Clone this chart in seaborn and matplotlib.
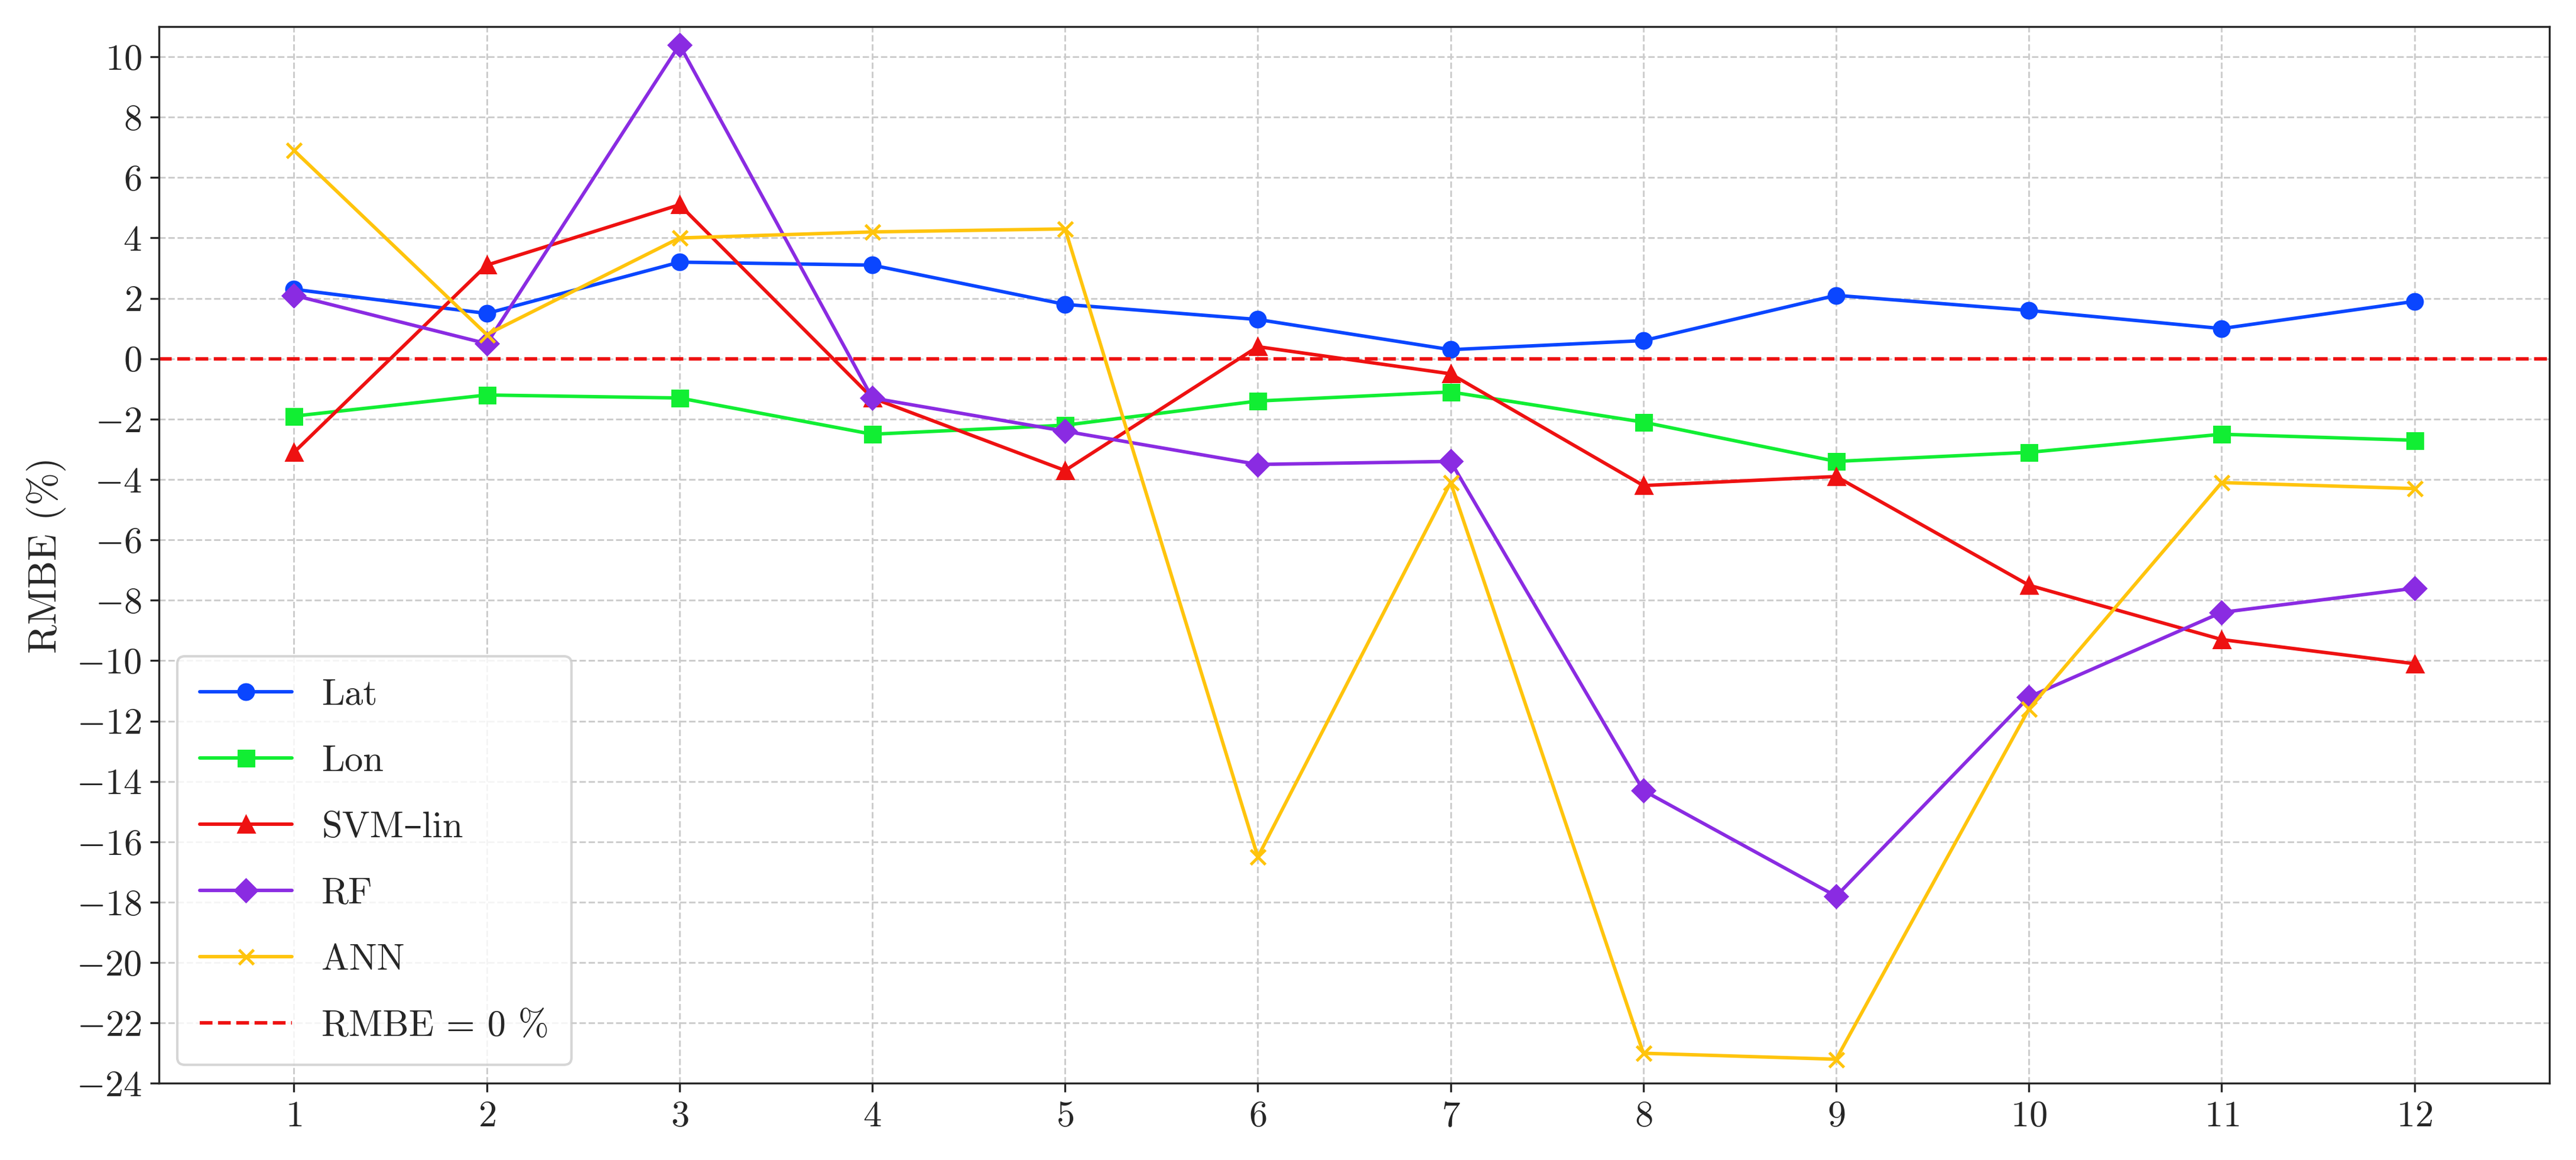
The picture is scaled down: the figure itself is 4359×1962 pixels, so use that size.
import numpy as np
import pandas as pd
import matplotlib
matplotlib.use("Agg")
import matplotlib.pyplot as plt
import seaborn as sns

months = list(range(1, 13))
lat = [2.3, 1.5, 3.2, 3.1, 1.8, 1.3, 0.3, 0.6, 2.1, 1.6, 1.0, 1.9]
lon = [-1.9, -1.2, -1.3, -2.5, -2.2, -1.4, -1.1, -2.1, -3.4, -3.1, -2.5, -2.7]
svm_lin = [-3.1, 3.1, 5.1, -1.3, -3.7, 0.4, -0.5, -4.2, -3.9, -7.5, -9.3, -10.1]
rf = [2.1, 0.5, 10.4, -1.3, -2.4, -3.5, -3.4, -14.3, -17.8, -11.2, -8.4, -7.6]
ann = [6.9, 0.8, 4.0, 4.2, 4.3, -16.5, -4.1, -23.0, -23.2, -11.6, -4.1, -4.3]

series = [
    ("Lat", lat, "#0a46ff", "o"),
    ("Lon", lon, "#11ee33", "s"),
    ("SVM\u2013lin", svm_lin, "#ee1111", "^"),
    ("RF", rf, "#8a2be2", "D"),
    ("ANN", ann, "#ffc40c", "x"),
]

sns.set_style("ticks")
plt.rcParams["font.family"] = ["cmr10", "DejaVu Serif"]
plt.rcParams["mathtext.fontset"] = "cm"
plt.rcParams["axes.formatter.use_mathtext"] = True

fig, ax = plt.subplots(figsize=(14.53, 6.54), dpi=300)
for name, vals, color, marker in series:
    df = pd.DataFrame({"m": months, "v": vals})
    sns.lineplot(data=df, x="m", y="v", ax=ax, color=color, marker=marker,
                 markersize=6, markeredgecolor=color, markeredgewidth=1.2,
                 linewidth=1.4, label=name)
ax.axhline(0, color="#ee1111", linestyle="--", linewidth=1.4, label="RMBE = 0 %")

ax.set_xlim(0.3, 12.7)
ax.set_ylim(-24, 11)
ax.set_xticks(months)
ax.set_yticks(np.arange(-24, 11, 2))
ax.tick_params(labelsize=15, direction="out")
ax.set_xlabel("")
ax.set_ylabel("RMBE (%)", fontsize=16)
ax.grid(True, linestyle="--", color="#cccccc", linewidth=0.7)
ax.legend(loc="lower left", fontsize=15, frameon=True, borderpad=0.6,
          labelspacing=0.9, handlelength=2.5)
fig.tight_layout()
fig.savefig("out.png", dpi=300)
